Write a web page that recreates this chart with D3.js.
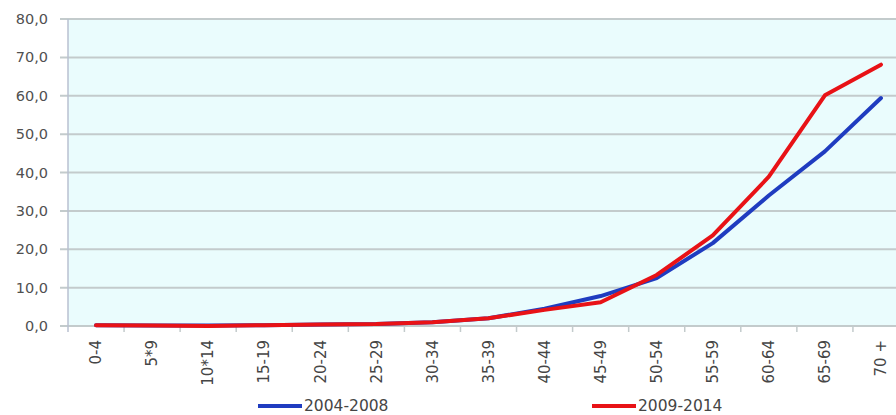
<!DOCTYPE html>
<html>
<head>
<meta charset="utf-8">
<script src="https://cdn.jsdelivr.net/npm/d3@7"></script>
<style>
  html, body { margin: 0; padding: 0; background: #ffffff; }
  svg { display: block; }
  text { font-family: "DejaVu Sans", "Noto Sans", sans-serif; }
</style>
</head>
<body>
<svg id="chart" width="896" height="415"></svg>
<script>
// Age groups on the x axis
const categories = ["0-4", "5*9", "10*14", "15-19", "20-24", "25-29", "30-34", "35-39",
                    "40-44", "45-49", "50-54", "55-59", "60-64", "65-69", "70 +"];
// Rates per age group for each period
const series2004 = [0.2, 0.1, 0.1, 0.2, 0.4, 0.5, 1.0, 2.0, 4.5, 7.8, 12.5, 21.6, 34.0, 45.5, 59.4];
const series2009 = [0.2, 0.1, 0.0, 0.2, 0.4, 0.5, 1.0, 2.0, 4.2, 6.2, 13.3, 23.6, 38.9, 60.1, 68.1];
const seriesNames = ["2004-2008", "2009-2014"];
const yTicks = [0, 10, 20, 30, 40, 50, 60, 70, 80];

const svg = d3.select("#chart");
const plotLeft = 68, plotRight = 909, plotTop = 19, plotBottom = 326;

const x = d3.scaleBand().domain(categories).range([plotLeft, plotRight]).paddingInner(0).paddingOuter(0);
const y = d3.scaleLinear().domain([0, 80]).range([plotBottom, plotTop]);
const fmt = v => d3.format(".1f")(v).replace(".", ",");

// Plot background
svg.append("rect")
  .attr("x", plotLeft).attr("y", plotTop)
  .attr("width", plotRight - plotLeft).attr("height", plotBottom - plotTop)
  .attr("fill", "#eafcfd");

// Horizontal gridlines
svg.append("g").selectAll("line").data(yTicks).join("line")
  .attr("x1", plotLeft - 8).attr("x2", plotRight)
  .attr("y1", d => y(d)).attr("y2", d => y(d))
  .attr("stroke", "#c3cbcc").attr("stroke-width", 2);

// Y axis labels
svg.append("g").selectAll("text").data(yTicks).join("text")
  .attr("x", 48).attr("y", d => y(d)).attr("dy", "0.35em")
  .attr("text-anchor", "end")
  .attr("font-size", 14.5).attr("fill", "#505050")
  .text(fmt);

// Left axis line
svg.append("line")
  .attr("x1", plotLeft).attr("x2", plotLeft).attr("y1", plotTop).attr("y2", plotBottom + 6)
  .attr("stroke", "#b8c0d0").attr("stroke-width", 1.5);

// X axis with ticks at band boundaries
const xAxis = d3.axisBottom(x).tickSize(0).tickSizeOuter(0);
const gx = svg.append("g").attr("transform", `translate(0,${plotBottom})`).call(xAxis);
gx.select(".domain").remove();
gx.selectAll("text")
  .attr("font-size", 15).attr("fill", "#454545")
  .attr("transform", "rotate(-90)")
  .attr("text-anchor", "end")
  .attr("x", -14).attr("y", 0).attr("dy", "0.35em");
svg.append("g").selectAll("line").data(categories.slice(1)).join("line")
  .attr("x1", d => x(d)).attr("x2", d => x(d))
  .attr("y1", plotBottom).attr("y2", plotBottom + 6)
  .attr("stroke", "#c3cbcc").attr("stroke-width", 1.5);

// Series lines
const line = d3.line()
  .x((d, i) => x(categories[i]) + x.bandwidth() / 2)
  .y(d => y(d));
const colors = ["#1f3cc0", "#e81216"];
[series2004, series2009].forEach((s, k) => {
  svg.append("path").datum(s)
    .attr("d", line)
    .attr("fill", "none")
    .attr("stroke", colors[k])
    .attr("stroke-width", 4)
    .attr("stroke-linejoin", "round")
    .attr("stroke-linecap", "round");
});

// Legend
const legendX = [258, 592];
seriesNames.forEach((name, k) => {
  const g = svg.append("g").attr("transform", `translate(${legendX[k]},406)`);
  g.append("line").attr("x1", 0).attr("x2", 44).attr("y1", 0).attr("y2", 0)
    .attr("stroke", colors[k]).attr("stroke-width", 4);
  g.append("text").attr("x", 46).attr("y", 0).attr("dy", "0.35em")
    .attr("font-size", 15.5).attr("fill", "#454545").text(name);
});
</script>
</body>
</html>
